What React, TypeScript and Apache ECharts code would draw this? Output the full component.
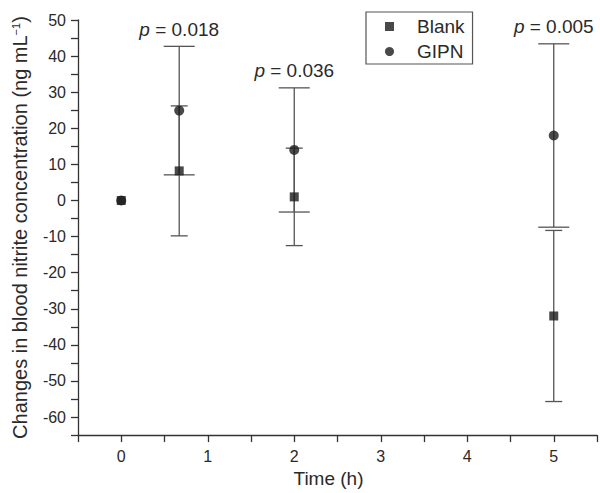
import React, { useEffect, useRef } from "react";
import * as echarts from "echarts";

// ---- data ----
const timePoints = [0, 0.67, 2, 5];
const blankMean = [0, 8.2, 1.0, -32.0];
const blankSD = [0, 18.0, 13.5, 23.7];
const gipnMean = [0, 24.9, 14.0, 18.0];
const gipnSD = [0, 17.8, 17.2, 25.4];
const pValues = ["", "0.018", "0.036", "0.005"];
const seriesNames = ["Blank", "GIPN"];
const seriesSymbols = ["rect", "circle"];

const FONT = '"Liberation Sans", Arial, Helvetica, sans-serif';
const TEXT = "#2a2a2a";
const AXIS = "#333333";
const BAR = "#555555";
const MARK = "#1c1c1c";

function errorBars(name: string, means: number[], sds: number[], capHalf: number) {
  return {
    type: "custom",
    name,
    z: 1,
    silent: true,
    data: timePoints.map((t, i) => [t, means[i], sds[i]]),
    renderItem: (params: any, api: any) => {
      const x = api.value(0);
      const m = api.value(1);
      const s = api.value(2);
      if (!s) return null;
      const top = api.coord([x, m + s]);
      const bot = api.coord([x, m - s]);
      const style = { stroke: BAR, lineWidth: 1.3 };
      return {
        type: "group",
        children: [
          { type: "line", shape: { x1: top[0], y1: top[1], x2: bot[0], y2: bot[1] }, style },
          { type: "line", shape: { x1: top[0] - capHalf, y1: top[1], x2: top[0] + capHalf, y2: top[1] }, style },
          { type: "line", shape: { x1: bot[0] - capHalf, y1: bot[1], x2: bot[0] + capHalf, y2: bot[1] }, style },
        ],
      };
    },
  };
}

export default function App() {
  const ref = useRef<HTMLDivElement>(null);
  useEffect(() => {
    if (!ref.current) return;
    const chart = echarts.init(ref.current, null, { renderer: "svg" });
    const option = {
      animation: false,
      backgroundColor: "#ffffff",
      textStyle: { fontFamily: FONT },
      grid: { left: 78, right: 0, top: 20, bottom: 52, containLabel: false },
      legend: {
        data: seriesNames.map((n, i) => ({ name: n, icon: seriesSymbols[i] })),
        orient: "vertical",
        left: 366,
        top: 12,
        itemWidth: 9,
        itemHeight: 9,
        itemGap: 6,
        padding: [5, 8, 3, 19],
        borderColor: "#555",
        borderWidth: 1.2,
        selectedMode: false,
        textStyle: { fontSize: 19, fontFamily: FONT, color: TEXT, padding: [0, 0, 0, 18] },
      },
      xAxis: {
        type: "value",
        min: -0.5,
        max: 5.5,
        interval: 0.5,
        name: "Time (h)",
        nameLocation: "middle",
        nameGap: 33,
        nameTextStyle: { fontSize: 19, fontFamily: FONT, color: TEXT, padding: [0, 18, 0, 0] },
        axisLine: { show: true, onZero: false, lineStyle: { color: AXIS, width: 1.3 } },
        axisTick: { show: true, length: 7, lineStyle: { color: AXIS, width: 1.3 } },
        splitLine: { show: false },
        axisLabel: {
          fontSize: 16,
          fontFamily: FONT,
          color: TEXT,
          margin: 13,
          formatter: (v: number) => (Number.isInteger(v) ? String(v) : ""),
        },
      },
      yAxis: {
        type: "value",
        min: -65,
        max: 50,
        interval: 5,
        name: "Changes in blood nitrite concentration (ng mL{sup|\u22121})",
        nameLocation: "middle",
        nameGap: 48,
        nameTextStyle: {
          fontSize: 20,
          fontFamily: FONT,
          color: TEXT,
          rich: {
            sup: { fontSize: 11, fontFamily: FONT, color: TEXT, verticalAlign: "top", lineHeight: 11 },
          },
        },
        axisLine: { show: true, onZero: false, lineStyle: { color: AXIS, width: 1.3 } },
        axisTick: { show: true, length: 7, lineStyle: { color: AXIS, width: 1.3 } },
        splitLine: { show: false },
        axisLabel: {
          fontSize: 16,
          fontFamily: FONT,
          color: TEXT,
          margin: 12,
          formatter: (v: number) => (v % 10 === 0 ? String(v) : ""),
        },
      },
      series: [
        errorBars("Blank SD", blankMean, blankSD, 8.5),
        errorBars("GIPN SD", gipnMean, gipnSD, 15.5),
        {
          type: "custom",
          name: "p values",
          z: 1,
          silent: true,
          data: timePoints.map((t, i) => [t, gipnMean[i] + gipnSD[i]]),
          renderItem: (params: any, api: any) => {
            const label = pValues[params.dataIndex];
            if (!label) return null;
            const pt = api.coord([api.value(0), api.value(1)]);
            return {
              type: "text",
              x: pt[0],
              y: pt[1] - 17,
              style: {
                text: "{i|p} = " + label,
                rich: { i: { fontStyle: "italic", fontSize: 19, fontFamily: FONT, fill: TEXT } },
                fontSize: 19,
                fontFamily: FONT,
                fill: TEXT,
                align: "center",
                verticalAlign: "middle",
              },
            };
          },
        },
        {
          type: "scatter",
          name: "GIPN",
          z: 3,
          symbol: "circle",
          symbolSize: 10,
          itemStyle: { color: MARK },
          data: timePoints.map((t, i) => [t, gipnMean[i]]),
        },
        {
          type: "scatter",
          name: "Blank",
          z: 4,
          symbol: "rect",
          symbolSize: 9,
          itemStyle: { color: MARK },
          data: timePoints.map((t, i) => [t, blankMean[i]]),
        },
      ],
    };
    chart.setOption(option as any);
    return () => chart.dispose();
  }, []);
  return (
    <div
      ref={ref}
      style={{ position: "absolute", left: 0, top: 0, width: 600, height: 493, background: "#fff" }}
    />
  );
}
